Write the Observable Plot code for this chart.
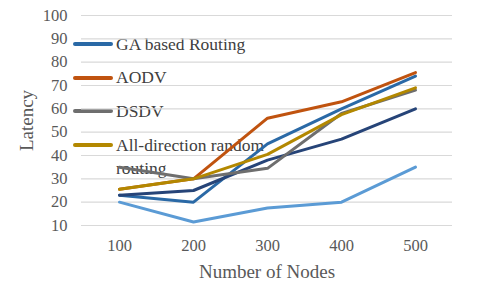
<!DOCTYPE html>
<html>
<head>
<meta charset="utf-8">
<script src="https://cdn.jsdelivr.net/npm/d3@7"></script>
<script src="https://cdn.jsdelivr.net/npm/@observablehq/plot@0.6"></script>
<style>
  html, body { margin: 0; padding: 0; background: #fff; }
  #wrap { position: relative; width: 480px; height: 295px; background: #fff; }
  #wrap svg { position: absolute; left: 0; top: 0; z-index: 2; background: transparent !important; }
  .leg { position: absolute; z-index: 1; left: 73px; width: 220px; color: #404040; font-size: 17.5px; line-height: 23px; }
  .leg .sw { position: absolute; left: 0; top: 9.5px; width: 40px; height: 4px; border-radius: 2px; }
  .leg .tx { margin-left: 43px; width: 160px; }
</style>
</head>
<body>
<div id="wrap" style="font-family:'Liberation Serif'"></div>
<script>
const nodes = ["100", "200", "300", "400", "500"];
const gaRouting = [23, 20, 45, 60, 74];
const aodv = [25.5, 30, 56, 63, 75.5];
const dsdv = [35, 30, 34.5, 58, 68];
const allDirection = [25.5, 30, 40.5, 57.5, 69];
const series5 = [23, 25, 38, 47, 60];
const series6 = [20, 11.5, 17.5, 20, 35];
const yTicks = [10, 20, 30, 40, 50, 60, 70, 80, 90, 100];

const seriesList = [
  {name: "Series6", values: series6, color: "#5B9BD5", legend: false},
  {name: "GA based Routing", values: gaRouting, color: "#2A69A6", legend: true},
  {name: "Series5", values: series5, color: "#264478", legend: false},
  {name: "AODV", values: aodv, color: "#C0530F", legend: true},
  {name: "DSDV", values: dsdv, color: "#6E6E6E", legend: true},
  {name: "All-direction random routing", values: allDirection, color: "#B38800", legend: true}
];

const rows = seriesList.flatMap(s => nodes.map((n, i) => ({series: s.name, node: n, value: s.values[i]})));
const serif = "'Liberation Serif'";

const chart = Plot.plot({
  width: 480,
  height: 295,
  marginLeft: 81,
  marginRight: 28,
  marginTop: 15,
  marginBottom: 70,
  style: {color: "#595959", background: "transparent", fontFamily: serif},
  x: {type: "point", domain: nodes, padding: 0.5},
  y: {domain: [10, 100]},
  marks: [
    Plot.gridY(yTicks, {stroke: "#d9d9d9", strokeOpacity: 1, strokeWidth: 1.2}),
    Plot.axisY(yTicks, {tickSize: 0, tickPadding: 14, fontSize: 16.5, fill: "#595959",
      label: "Latency", labelAnchor: "center", labelOffset: 62, labelArrow: "none"}),
    Plot.axisX({tickSize: 0, tickPadding: 14, fontSize: 16.5, fill: "#595959",
      label: "Number of Nodes", labelAnchor: "center", labelOffset: 52, labelArrow: "none"}),
    ...seriesList.map(s => Plot.line(rows.filter(r => r.series === s.name), {
      x: "node", y: "value", stroke: s.color, strokeWidth: 3, strokeLinejoin: "round", strokeLinecap: "round"
    }))
  ]
});
d3.select(chart).selectAll("text").style("font-family", serif);
d3.select(chart).selectAll("[aria-label='y-axis label'] text, [aria-label='x-axis label'] text").attr("font-size", 19);
const wrap = document.getElementById("wrap");

const legendTops = [32.5, 66, 99.5, 133.5];
seriesList.filter(s => s.legend).forEach((s, i) => {
  const d = document.createElement("div");
  d.className = "leg";
  d.style.top = legendTops[i] + "px";
  d.style.fontFamily = serif;
  const sw = document.createElement("div");
  sw.className = "sw";
  sw.style.background = s.color;
  const tx = document.createElement("div");
  tx.className = "tx";
  tx.textContent = s.name;
  d.appendChild(sw);
  d.appendChild(tx);
  wrap.appendChild(d);
});
wrap.appendChild(chart);
</script>
</body>
</html>
